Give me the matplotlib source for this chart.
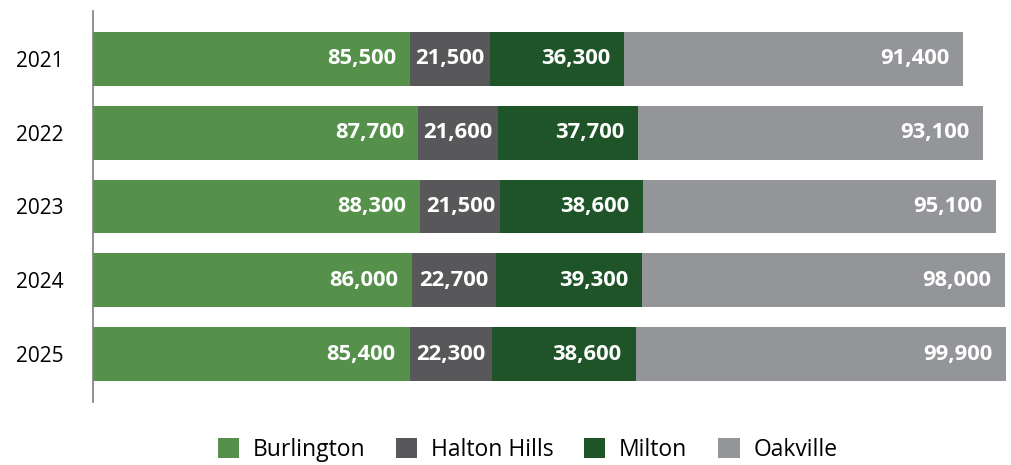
import matplotlib
matplotlib.use("Agg")
import matplotlib.pyplot as plt
from matplotlib.patches import Patch

years = ["2021", "2022", "2023", "2024", "2025"]
series_names = ["Burlington", "Halton Hills", "Milton", "Oakville"]
burlington = [85500, 87700, 88300, 86000, 85400]
halton_hills = [21500, 21600, 21500, 22700, 22300]
milton = [36300, 37700, 38600, 39300, 38600]
oakville = [91400, 93100, 95100, 98000, 99900]
colors = ["#55914B", "#58585A", "#1F5429", "#939598"]

series = [burlington, halton_hills, milton, oakville]

plt.rcParams['font.family'] = ['Open Sans', 'DejaVu Sans']

W, H = 1011, 465
fig = plt.figure(figsize=(W / 100, H / 100), dpi=100)
ax = fig.add_axes([93 / W, 1 - 402 / H, (1006 - 93) / W, (402 - 11) / H])

ypos = list(range(len(years)))
left = [0] * len(years)
for name, vals, col in zip(series_names, series, colors):
    ax.barh(ypos, vals, left=left, height=0.73, color=col, label=name, linewidth=0)
    for i, v in enumerate(vals):
        label = f"{v:,}"
        if v < 30000:
            ax.text(left[i] + v / 2, ypos[i], label, ha="center", va="center",
                    color="white", fontsize=15.8, fontweight="bold")
        else:
            ax.annotate(label, (left[i] + v, ypos[i]), xytext=(-10, 0),
                        textcoords="offset points", ha="right", va="center",
                        color="white", fontsize=15.8, fontweight="bold")
    left = [l + v for l, v in zip(left, vals)]

ax.set_xlim(0, max(left))
ax.set_ylim(len(years) - 1 + 0.65, -0.65)
ax.set_yticks(ypos)
ax.set_yticklabels(years, fontsize=15)
ax.tick_params(axis="y", length=0, pad=21)
ax.set_xticks([])
for s in ["top", "right", "bottom"]:
    ax.spines[s].set_visible(False)
ax.spines["left"].set_color("#7f7f7f")
ax.spines["left"].set_linewidth(1.2)

handles = [Patch(facecolor=c, edgecolor="none", label=n) for n, c in zip(series_names, colors)]
fig.legend(handles=handles, loc="center", bbox_to_anchor=(527.5 / W, 1 - 450 / H), ncol=4,
           frameon=False, fontsize=16.5, handlelength=0.92, handleheight=0.92,
           handletextpad=0.6, columnspacing=1.35)

fig.savefig("out.png", dpi=100)
